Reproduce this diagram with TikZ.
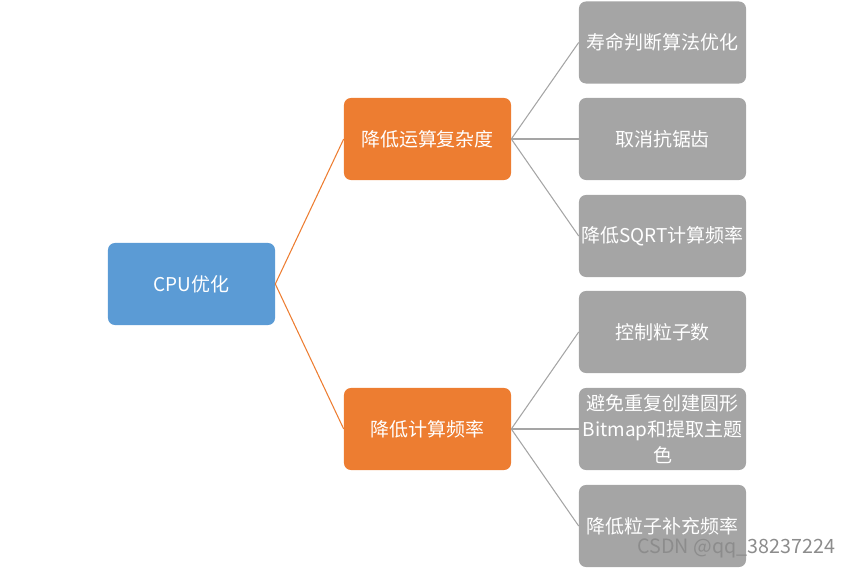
\documentclass[tikz,border=0pt]{standalone}
\usepackage{fontspec}
\setmainfont{Noto Sans CJK SC}
\usepackage{xcolor}
\usepackage{tikz}
\usetikzlibrary{positioning}
\definecolor{rootblue}{HTML}{5B9BD5}
\definecolor{midorange}{HTML}{ED7D31}
\definecolor{leafgray}{HTML}{A5A5A5}

\begin{document}
\begin{tikzpicture}[x=0.025cm,y=-0.025cm,
    box/.style={rounded corners=5pt,text=white,minimum width=4.175cm,minimum height=2.05cm,
      inner sep=1pt,font=\fontsize{13.5}{18.5}\selectfont,align=center},
    rootbox/.style={box,fill=rootblue},
    midbox/.style={box,fill=midorange},
    leafbox/.style={box,fill=leafgray},
    midline/.style={midorange,line width=0.75pt},
    leafline/.style={leafgray,line width=0.75pt}]
  \useasboundingbox (0,0) rectangle (854,569);
  % root
  \node[rootbox] (cpu) at (191.5,284) {CPU优化};
  % second level
  \node[midbox] (complex) at (427.5,139) {降低运算复杂度};
  \node[midbox] (freq) at (427.5,429) {降低计算频率};
  % leaves
  \node[leafbox] (life) at (662.5,42.5) {寿命判断算法优化};
  \node[leafbox] (alias) at (662.5,139) {取消抗锯齿};
  \node[leafbox] (sqrt) at (662.5,236) {降低SQRT计算频率};
  \node[leafbox] (count) at (662.5,332) {控制粒子数};
  \node[leafbox] (bitmap) at (662.5,429) {避免重复创建圆形\\Bitmap和提取主题\\色};
  \node[leafbox] (refill) at (662.5,526) {降低粒子补充频率};
  % connectors
  \draw[midline] (cpu.east) -- (complex.west);
  \draw[midline] (cpu.east) -- (freq.west);
  \foreach \n in {life,alias,sqrt} {
    \draw[leafline] (complex.east) -- (\n.west);
  }
  \foreach \n in {count,bitmap,refill} {
    \draw[leafline] (freq.east) -- (\n.west);
  }
  \node[anchor=east,text=black!45,font=\fontsize{14}{16}\selectfont] (mark) at (840,548) {CSDN @qq\_38237224};
\end{tikzpicture}
\end{document}
